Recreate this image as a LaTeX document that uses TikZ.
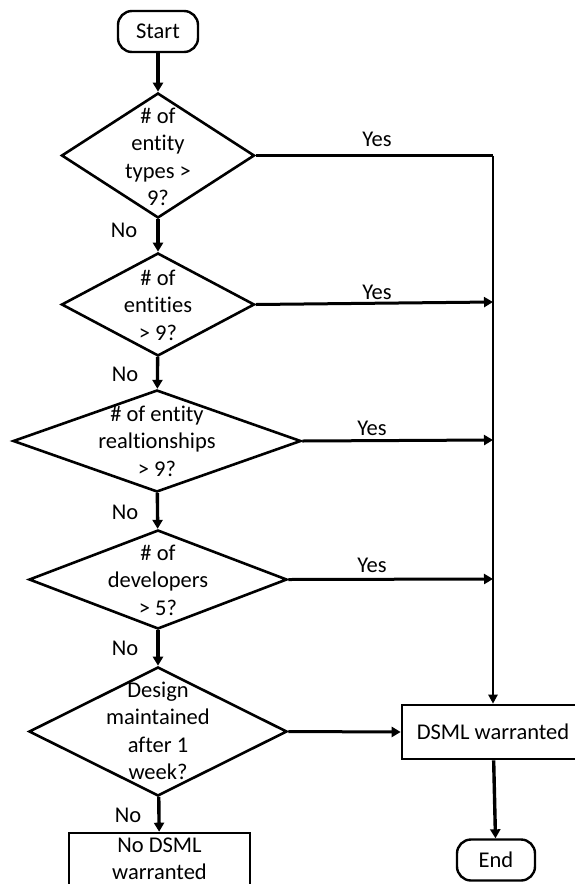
\documentclass[tikz,border=0pt]{standalone}
\usepackage{fontspec}
\setmainfont{Carlito}[Ligatures=NoCommon]
\usetikzlibrary{shapes.geometric,arrows.meta}
\begin{document}
\begin{tikzpicture}[x=1pt,y=-1pt,
  every node/.style={font=\fontsize{22.5}{27.5}\selectfont},
  dia/.style={diamond,draw,line width=2.6pt,inner sep=0pt},
  txt/.style={align=center,inner sep=0pt},
  term/.style={draw,line width=2.4pt,rounded corners=14pt,minimum width=80pt,minimum height=41pt,inner sep=0pt},
  box/.style={draw,line width=2.6pt,inner sep=0pt},
  arr/.style={line width=3.4pt,-{Triangle[length=9pt,width=10pt]}},
  harr/.style={line width=3pt,-{Triangle[length=9pt,width=10pt]}},
  ln/.style={line width=3pt},
  vln/.style={line width=2.3pt},
  lbl/.style={inner sep=0pt}]
\useasboundingbox (0,0) rectangle (575,884);
\fill[white] (0,0) rectangle (575,884);

\node[term] (start) at (158,31.5) {Start};
\node[term,minimum width=78pt] (end) at (496,860) {End};

\node[dia,minimum width=193pt,minimum height=125pt] (d1) at (158,155.5) {};
\node[txt] (t1) at (158,157) {\# of\\entity\\types >\\9?};
\node[dia,minimum width=193pt,minimum height=103pt] (d2) at (158,304.5) {};
\node[txt] (t2) at (158,305) {\# of\\entities\\> 9?};
\node[dia,minimum width=288pt,minimum height=102pt] (d3) at (157,441) {};
\node[txt] (t3) at (157,441) {\# of entity\\realtionships\\> 9?};
\node[dia,minimum width=258pt,minimum height=99pt] (d4) at (158,579.5) {};
\node[txt] (t4) at (158,580) {\# of\\developers\\> 5?};
\node[dia,minimum width=258pt,minimum height=129pt] (d5) at (158,731.5) {};
\node[txt] (t5) at (158,731) {Design\\maintained\\after 1\\week?};

\node[box,minimum width=182pt,minimum height=54pt] (dsml) at (493,732) {DSML warranted};
\node[box,minimum width=181pt,minimum height=58pt] (nodsml) at (159.5,862) {};
\node[txt] (nodsmlt) at (159.5,859) {No DSML\\warranted};

\coordinate (c1) at (493,155.5);
\coordinate (j2) at (493,302);
\coordinate (j3) at (493,440);
\coordinate (j4) at (493,579);

\draw[arr] (start) -- (d1);
\draw[arr] (d1) -- (d2);
\draw[arr] (d2) -- (d3);
\draw[arr] (d3) -- (d4);
\draw[arr] (d4) -- (d5);
\draw[arr] (d5) -- (nodsml);
\draw[arr] (dsml) -- (end);

\draw[ln] (d1.east) -- (c1);
\draw[vln,-{Triangle[length=9pt,width=9pt]}] (c1) -- (dsml.north);
\draw[harr] (d2.east) -- (j2);
\draw[harr] (d3.east) -- (j3);
\draw[harr] (d4.east) -- (j4);
\draw[harr] (d5.east) -- (dsml.west);

\node[lbl] (y1) at (377,139) {Yes};
\node[lbl] (y2) at (377,292) {Yes};
\node[lbl] (y3) at (372,428) {Yes};
\node[lbl] (y4) at (372,565) {Yes};

\node[lbl] (n1) at (124,230) {No};
\node[lbl] (n2) at (125,374) {No};
\node[lbl] (n3) at (125,512) {No};
\node[lbl] (n4) at (125,648) {No};
\node[lbl] (n5) at (128,815) {No};
\end{tikzpicture}
\end{document}
